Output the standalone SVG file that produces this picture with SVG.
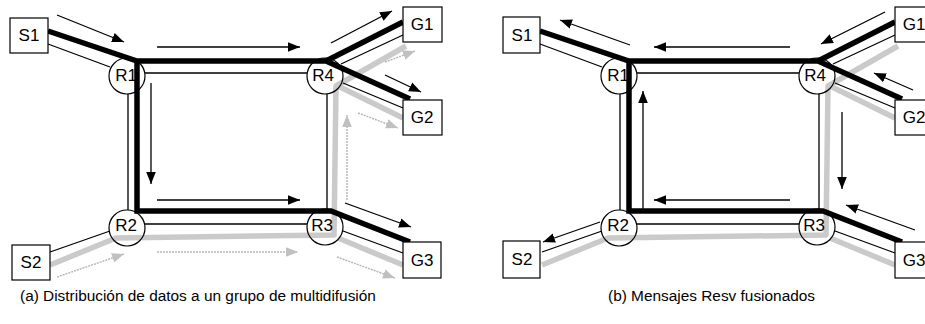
<svg xmlns="http://www.w3.org/2000/svg" width="925" height="324" viewBox="0 0 925 324">
<style>
.box{fill:#fff;stroke:#000;stroke-width:1.2}
.rt{fill:none;stroke:#000;stroke-width:1.2}
.lbl{font-family:"Liberation Sans",Arial,sans-serif;font-size:17px;fill:#000;text-anchor:middle}
.cap{font-family:"Liberation Sans",Arial,sans-serif;font-size:15.4px;fill:#000}
.gray{fill:none;stroke:#cacaca;stroke-width:5.5;stroke-linejoin:round}
.thin{fill:none;stroke:#000;stroke-width:1.3}
.thick{fill:none;stroke:#000;stroke-width:5.5;stroke-linejoin:miter}
.arr{fill:none;stroke:#000;stroke-width:1.3;marker-end:url(#ah)}
.garr{fill:none;stroke:#b8b8b8;stroke-width:1.5;stroke-dasharray:2 1;marker-end:url(#gah)}
</style>
<defs>
<marker id="ah" viewBox="0 0 10 8" refX="10" refY="4" markerWidth="12" markerHeight="10" markerUnits="userSpaceOnUse" orient="auto"><path d="M0,0 L10,4 L0,8 z" fill="#000"/></marker>
<marker id="gah" viewBox="0 0 10 8" refX="10" refY="4" markerWidth="12" markerHeight="10" markerUnits="userSpaceOnUse" orient="auto"><path d="M0,0 L10,4 L0,8 z" fill="#c0c0c0"/></marker>
</defs>

<g id="panel-a">
<g id="a-connectors">
<path class="gray" d="M50,265 L116,238 L334,235 L336,86 L406,46 M338,86 L403,118 M338,238 L403,265"/>
<path class="thin" d="M48,44 L110,67 M145,73 L307,73 M128,94 L128,210 M145,224 L307,224 M327,94 L327,209 M341,64 L403,35 M343,83 L403,108 M343,231 L403,253 M50,252 L110,231"/>
<path class="thick" d="M48,31 L137,61 L326,61 L403,22 M326,61 L410,99 M137,61 L137,211 L331,211 L410,242"/>
<path class="arr" d="M57,15 L124,42"/>
<path class="arr" d="M157,47 L300,47"/>
<path class="arr" d="M151,83 L151,184"/>
<path class="arr" d="M157,200 L300,200"/>
<path class="arr" d="M331,43 L392,11"/>
<path class="arr" d="M385,75 L421,92"/>
<path class="arr" d="M345,203 L411,227"/>
<path class="garr" d="M57,277 L124,254"/>
<path class="garr" d="M157,252 L298,252"/>
<path class="garr" d="M347,200 L347,115"/>
<path class="garr" d="M358,113 L398,128"/>
<path class="garr" d="M337,257 L395,278"/>
<path class="garr" d="M385,62 L415,51"/>
</g>
<g id="a-S1"><rect class="box" x="10" y="18" width="38" height="35"/><text class="lbl" x="29" y="41">S1</text></g>
<g id="a-S2"><rect class="box" x="12" y="245" width="38" height="35"/><text class="lbl" x="31" y="268">S2</text></g>
<g id="a-G1"><rect class="box" x="403" y="7" width="39" height="35"/><text class="lbl" x="422" y="30">G1</text></g>
<g id="a-G2"><rect class="box" x="403" y="100" width="39" height="35"/><text class="lbl" x="422" y="123">G2</text></g>
<g id="a-G3"><rect class="box" x="403" y="242" width="38" height="36"/><text class="lbl" x="422" y="266">G3</text></g>
<g id="a-R1"><circle class="rt" cx="127" cy="76" r="18"/><text class="lbl" x="126" y="81">R1</text></g>
<g id="a-R4"><circle class="rt" cx="325" cy="76" r="18"/><text class="lbl" x="323" y="81">R4</text></g>
<g id="a-R2"><circle class="rt" cx="127" cy="228" r="18"/><text class="lbl" x="126" y="231">R2</text></g>
<g id="a-R3"><circle class="rt" cx="325" cy="227" r="18"/><text class="lbl" x="322" y="231">R3</text></g>
<text class="cap" x="20" y="301">(a) Distribución de datos a un grupo de multidifusión</text>
</g>

<g id="panel-b" transform="translate(492,0)">
<g id="b-connectors">
<path class="gray" d="M50,265 L116,238 L334,235 L336,86 L406,46 M338,86 L403,118 M338,238 L403,265"/>
<path class="thin" d="M48,44 L110,67 M145,73 L307,73 M128,94 L128,210 M145,224 L307,224 M327,94 L327,209 M341,64 L403,35 M343,83 L403,108 M343,231 L403,253 M50,252 L110,231"/>
<path class="thick" d="M48,31 L137,61 L326,61 L403,22 M326,61 L410,99 M137,61 L137,211 L331,211 L410,242"/>
<path class="arr" d="M138,45 L68,20"/>
<path class="arr" d="M298,47 L162,47"/>
<path class="arr" d="M151,210 L151,91"/>
<path class="arr" d="M298,200 L162,200"/>
<path class="arr" d="M108,222 L51,242"/>
<path class="arr" d="M393,12 L329,44"/>
<path class="arr" d="M421,90 L382,73"/>
<path class="arr" d="M350,112 L350,189"/>
<path class="arr" d="M423,230 L354,205"/>
</g>
<g id="b-S1"><rect class="box" x="11" y="17" width="37" height="36"/><text class="lbl" x="30" y="41">S1</text></g>
<g id="b-S2"><rect class="box" x="11" y="241" width="37" height="37"/><text class="lbl" x="30" y="265">S2</text></g>
<g id="b-G1"><rect class="box" x="403" y="7" width="39" height="35"/><text class="lbl" x="422" y="30">G1</text></g>
<g id="b-G2"><rect class="box" x="403" y="100" width="39" height="35"/><text class="lbl" x="422" y="123">G2</text></g>
<g id="b-G3"><rect class="box" x="403" y="242" width="38" height="36"/><text class="lbl" x="422" y="266">G3</text></g>
<g id="b-R1"><circle class="rt" cx="127" cy="76" r="18"/><text class="lbl" x="126" y="81">R1</text></g>
<g id="b-R4"><circle class="rt" cx="325" cy="76" r="18"/><text class="lbl" x="323" y="81">R4</text></g>
<g id="b-R2"><circle class="rt" cx="127" cy="228" r="18"/><text class="lbl" x="126" y="231">R2</text></g>
<g id="b-R3"><circle class="rt" cx="325" cy="227" r="18"/><text class="lbl" x="322" y="231">R3</text></g>
<text class="cap" x="116" y="301">(b) Mensajes Resv fusionados</text>
</g>
</svg>
